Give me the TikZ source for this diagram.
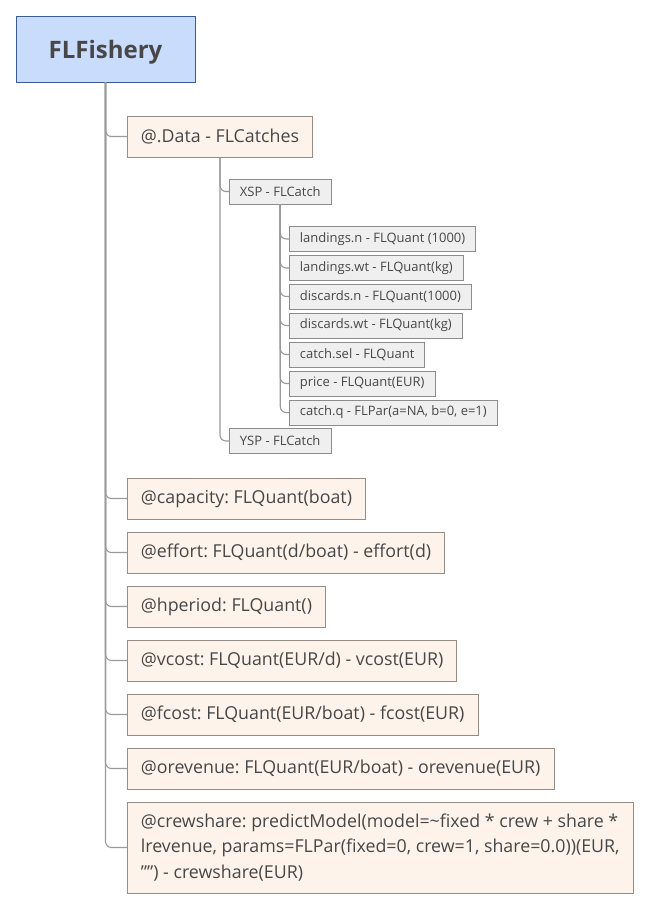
\documentclass[tikz,border=0pt]{standalone}
\usepackage{fontspec}
\setmainfont{Open Sans}
\frenchspacing
\begin{document}
\begin{tikzpicture}[x=1pt,y=-1pt,
  every node/.style={text=txt},
  rootbox/.style={draw=rootborder,fill=rootfill,line width=0.9pt,minimum width=179pt,minimum height=66pt,text depth=0pt,font=\fontsize{24}{28}\selectfont\bfseries},
  mainbox/.style={draw=mainborder,fill=mainfill,line width=0.8pt,anchor=west,minimum height=41pt,inner xsep=13.5pt,font=\fontsize{17.8}{21}\selectfont},
  leafbox/.style={draw=leafborder,fill=leaffill,line width=0.8pt,anchor=west,minimum height=25pt,inner xsep=10.5pt,inner ysep=0pt,font=\fontsize{13}{15}\selectfont},
  conn/.style={draw=connc,line width=1.1pt,rounded corners=6pt},
]
\definecolor{txt}{HTML}{474747}
\definecolor{rootfill}{HTML}{C9DCFB}
\definecolor{rootborder}{HTML}{3C5A96}
\definecolor{mainfill}{HTML}{FDF3EB}
\definecolor{mainborder}{HTML}{968C86}
\definecolor{leaffill}{HTML}{EFEFEF}
\definecolor{leafborder}{HTML}{8C8C8C}
\definecolor{connc}{HTML}{9A9A9A}
\useasboundingbox (0,0) rectangle (649,910);

\node[rootbox] (root) at (105.5,49) {FLFishery};

\node[mainbox] (data) at (127,136.5) {@.Data - FLCatches};
\node[leafbox] (xsp) at (229,191.5) {XSP - FLCatch};
\node[leafbox] (l1) at (289,239) {landings.n - FLQuant (1000)};
\node[leafbox] (l2) at (289,268) {landings.wt - FLQuant(kg)};
\node[leafbox] (l3) at (289,296.5) {discards.n - FLQuant(1000)};
\node[leafbox] (l4) at (289,325.5) {discards.wt - FLQuant(kg)};
\node[leafbox] (l5) at (289,354.5) {catch.sel - FLQuant};
\node[leafbox] (l6) at (289,383.5) {price - FLQuant(EUR)};
\node[leafbox] (l7) at (289,412.5) {catch.q - FLPar(a=NA, b=0, e=1)};
\node[leafbox] (ysp) at (229,441) {YSP - FLCatch};

\node[mainbox] (cap) at (127,498.5) {@capacity: FLQuant(boat)};
\node[mainbox] (eff) at (127,552.5) {@effort: FLQuant(d/boat) - effort(d)};
\node[mainbox] (hp) at (127,606.5) {@hperiod: FLQuant()};
\node[mainbox] (vc) at (127,660.5) {@vcost: FLQuant(EUR/d) - vcost(EUR)};
\node[mainbox] (fc) at (127,714.5) {@fcost: FLQuant(EUR/boat) - fcost(EUR)};
\node[mainbox] (or) at (127,768.5) {@orevenue: FLQuant(EUR/boat) - orevenue(EUR)};
\node[mainbox,minimum height=91pt,align=left,font=\fontsize{17.8}{25.5}\selectfont] (cs) at (127,847.5)
  {@crewshare: predictModel(model=\textasciitilde fixed * crew + share *\\lrevenue, params=FLPar(fixed=0, crew=1, share=0.0))(EUR,\\\symbol{34}\symbol{34}) - crewshare(EUR)};

\foreach \c in {data,cap,eff,hp,vc,fc,or,cs}
  \draw[conn] (root.south) |- (\c.west);
\foreach \c in {xsp,ysp}
  \draw[conn] (data.south) |- (\c.west);
\foreach \c in {l1,l2,l3,l4,l5,l6,l7}
  \draw[conn] (xsp.south) |- (\c.west);
\end{tikzpicture}
\end{document}
